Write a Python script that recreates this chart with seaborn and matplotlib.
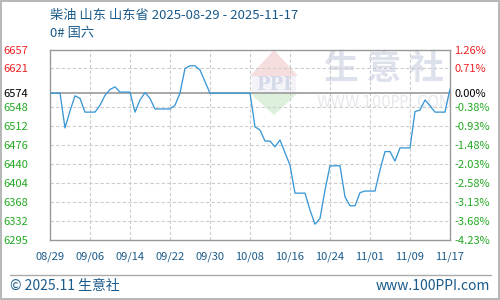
import numpy as np
import pandas as pd
import matplotlib
matplotlib.use("Agg")
import matplotlib.pyplot as plt
from matplotlib.patches import Polygon, Rectangle
from matplotlib.lines import Line2D
import seaborn as sns

# ---- data ----
dates = pd.date_range("2025-08-29", "2025-11-17", freq="D")
prices = [
    6574, 6574, 6574, 6508, 6540, 6569, 6564, 6538, 6538, 6538,   # 08/29-09/07
    6551, 6570, 6581, 6586, 6576, 6576, 6576, 6538, 6561, 6575,   # 09/08-09/17
    6564, 6544, 6544, 6544, 6544, 6551, 6574, 6621, 6626, 6626,   # 09/18-09/27
    6618, 6596, 6574, 6574, 6574, 6574, 6574, 6574, 6574, 6574,   # 09/28-10/07
    6574, 6510, 6504, 6483, 6483, 6472, 6485, 6461, 6437, 6384,   # 10/08-10/17
    6384, 6384, 6352, 6325, 6336, 6390, 6436, 6436, 6436, 6377,   # 10/18-10/27
    6360, 6360, 6385, 6388, 6388, 6388, 6428, 6463, 6463, 6445,   # 10/28-11/06
    6470, 6470, 6470, 6539, 6542, 6561, 6550, 6538, 6538, 6538,   # 11/07-11/16
    6582,                                                         # 11/17
]
base_value = 6574
y_ticks = [6295, 6332, 6368, 6404, 6440, 6476, 6512, 6548, 6574, 6621, 6657]
y_tick_labels = ["6295", "6332", "6368", "6404", "6440", "6476", "6512", "6548", "6574", "6621", "6657"]
pct_labels = ["-4.23%", "-3.68%", "-3.13%", "-2.58%", "-2.03%", "-1.48%", "-0.93%", "-0.38%", "0.00%", "0.71%", "1.26%"]
x_tick_labels = ["08/29", "09/06", "09/14", "09/22", "09/30", "10/08", "10/16", "10/24", "11/01", "11/09", "11/17"]
title_line1 = "柴油 山东 山东省 2025-08-29 - 2025-11-17"
title_line2 = "0# 国六"

df = pd.DataFrame({"date": dates, "price": prices})

# ---- style ----
sns.set_style("white")
plt.rcParams["font.family"] = ["Noto Sans CJK SC", "DejaVu Sans"]
plt.rcParams["axes.unicode_minus"] = False

W, H = 500, 300
fig = plt.figure(figsize=(5, 3), dpi=100)
L, R, T, B = 50, 450, 49.5, 240
ax = fig.add_axes([L / W, 1 - B / H, (R - L) / W, (B - T) / H])
ax.set_facecolor("none")

def fx(px):
    return px / W
def fy(py):
    return 1 - py / H

# watermark (behind axes)
red_tri = Polygon([(fx(274), fy(50)), (fx(250), fy(76)), (fx(298), fy(76))],
                  closed=True, transform=fig.transFigure, facecolor="#f7dede", edgecolor="none", zorder=-2)
green_tri = Polygon([(fx(250), fy(93)), (fx(298), fy(93)), (fx(274), fy(115))],
                    closed=True, transform=fig.transFigure, facecolor="#dcf0dc", edgecolor="none", zorder=-2)
band = Rectangle((fx(252), fy(93)), fx(44), fy(76) - fy(93), transform=fig.transFigure,
                 facecolor="#f4f4f8", edgecolor="none", zorder=-2)
fig.patches.extend([red_tri, band, green_tri])
fig.text(fx(274), fy(84.5), "PPI", ha="center", va="center", fontsize=13, color="#d3d9e8",
         fontweight="bold", family="DejaVu Serif", zorder=-1)
fig.text(fx(384), fy(69), "生 意 社", ha="center", va="center", fontsize=25, color="#dde1ec",
         fontweight="bold", zorder=-1)
fig.text(fx(384), fy(103), "WWW.100PPI.COM", ha="center", va="center", fontsize=10.5, color="#e6e8ee",
         family="DejaVu Sans", zorder=-1)

# line
line_color = "#3a98d6"
sns.lineplot(data=df, x="date", y="price", ax=ax, color=line_color, linewidth=0.95, zorder=3)

x0 = pd.Timestamp("2025-08-29")
x1 = pd.Timestamp("2025-11-17")
ax.set_xlim(x0, x1)
ax.set_ylim(y_ticks[0], y_ticks[-1])

xt = [x0 + pd.Timedelta(days=8 * i) for i in range(len(x_tick_labels))]
ax.set_xticks(xt)
ax.set_xticklabels(x_tick_labels)
ax.set_yticks(y_ticks)
ax.set_yticklabels(y_tick_labels)
ax.set_xlabel("")
ax.set_ylabel("")

# grid
grid_kw = dict(color="#cccccc", linestyle=(0, (3, 2)), linewidth=0.8, zorder=1)
for t in xt[1:-1]:
    ax.axvline(t, **grid_kw)
for v in y_ticks[1:-1]:
    if v != base_value:
        ax.axhline(v, **grid_kw)
ax.axhline(base_value, color="#999999", linewidth=1.2, zorder=2)

for s in ax.spines.values():
    s.set_color("#999999")
    s.set_linewidth(1.0)

def col(v):
    if v > base_value:
        return "#ee2222"
    if v < base_value:
        return "#22aa22"
    return "#000000"

ax.tick_params(axis="both", length=0)
ax.tick_params(axis="y", pad=16, labelsize=8)
ax.tick_params(axis="x", pad=8, labelsize=8, colors="#1a5a8a")
for lbl, v in zip(ax.get_yticklabels(), y_ticks):
    lbl.set_color(col(v))

ax2 = ax.twinx()
ax2.set_ylim(ax.get_ylim())
ax2.set_yticks(y_ticks)
ax2.set_yticklabels(pct_labels)
ax2.tick_params(axis="y", length=0, pad=3, labelsize=8)
for lbl, v in zip(ax2.get_yticklabels(), y_ticks):
    lbl.set_color(col(v))
for s in ax2.spines.values():
    s.set_visible(False)

# titles
fig.text(fx(50), fy(15), title_line1, ha="left", va="center", fontsize=9.5, color="#1a5a8a")
fig.text(fx(50), fy(34), title_line2, ha="left", va="center", fontsize=9.5, color="#1a5a8a")

# footer
fig.add_artist(Line2D([fx(10), fx(491)], [fy(275), fy(275)], transform=fig.transFigure,
                      color="#aaaaaa", linewidth=1.0))
fig.text(fx(10), fy(286), "© 2025.11 生意社", ha="left", va="center", fontsize=10, color="#1a5a8a")
fig.text(fx(490), fy(286), "www.100PPI.com", ha="right", va="center", fontsize=10, color="#1a5a8a")

# outer border
fig.add_artist(Rectangle((0.001, 0.002), 0.997, 0.996, transform=fig.transFigure,
                         fill=False, edgecolor="#aaaaaa", linewidth=1.2))

fig.savefig("out.png", dpi=100)
